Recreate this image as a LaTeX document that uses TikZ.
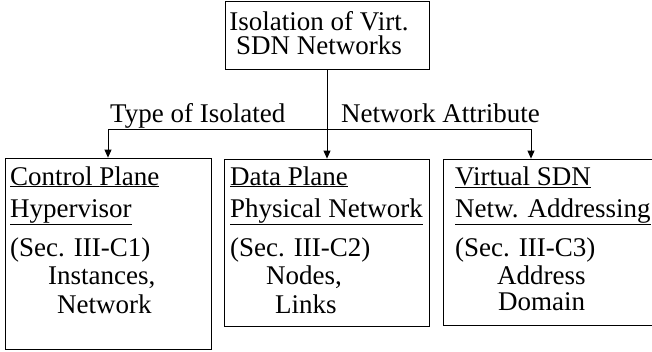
\documentclass[tikz,border=0pt]{standalone}
\usepackage{fontspec}
\setmainfont{Liberation Serif}
\usetikzlibrary{arrows.meta}
\begin{document}
\begin{tikzpicture}[x=1pt,y=1pt,
  box/.style={draw, line width=0.8pt, inner sep=0pt},
  txt/.style={anchor=base west, inner sep=0pt, font=\fontsize{27}{31}\selectfont},
  conn/.style={line width=0.8pt},
  arr/.style={conn, -{Triangle[length=8pt,width=7pt]}}]
\useasboundingbox (0,0) rectangle (652,-351);
\clip (0,0) rectangle (652,-351);
% boxes
\node[box, minimum width=204pt, minimum height=68pt] (top) at (327,-35) {};
\node[box, minimum width=206pt, minimum height=191pt] (left) at (108,-253.5) {};
\node[box, minimum width=205pt, minimum height=167pt] (mid) at (326.5,-242.5) {};
\node[box, minimum width=217pt, minimum height=166pt] (right) at (551.5,-242) {};
% top text
\node[inner sep=0pt, align=center, anchor=base, font=\fontsize{27}{24}\selectfont] (t1) at (319,-54) {Isolation of Virt.\\SDN Networks};
% connectors
\coordinate (bl) at (108,-129);
\coordinate (br) at (531,-129);
\draw[conn] (bl) -- (br);
\draw[arr] (top.south) -- (top.south |- mid.north);
\draw[arr] (bl) -- (bl |- left.north);
\draw[arr] (br) -- (br |- right.north);
\node[txt] (lab1) at (110,-122) {Type of Isolated};
\node[txt] (lab2) at (341,-122) {Network Attribute};
% left box text
\node[txt] (l1) at (10,-185) {\underline{Control Plane}};
\node[txt] (l2) at (10,-217) {\underline{Hypervisor}};
\node[txt] (l3) at (10,-256) {(Sec. III-C1)};
\node[txt] (l4) at (48,-284) {Instances,};
\node[txt] (l5) at (57,-313) {Network};
% middle box text
\node[txt] (m1) at (230,-185) {\underline{Data Plane}};
\node[txt] (m2) at (230,-217) {\underline{Physical Network}};
\node[txt] (m3) at (230,-256) {(Sec. III-C2)};
\node[txt] (m4) at (266,-284) {Nodes,};
\node[txt] (m5) at (275,-313) {Links};
% right box text
\node[txt] (r1) at (455,-185) {\underline{Virtual SDN}};
\node[txt] (r2) at (455,-217) {\underline{Netw. Addressing}};
\node[txt] (r3) at (455,-256) {(Sec. III-C3)};
\node[txt] (r4) at (497,-284) {Address};
\node[txt] (r5) at (498,-310) {Domain};
\end{tikzpicture}
\end{document}
